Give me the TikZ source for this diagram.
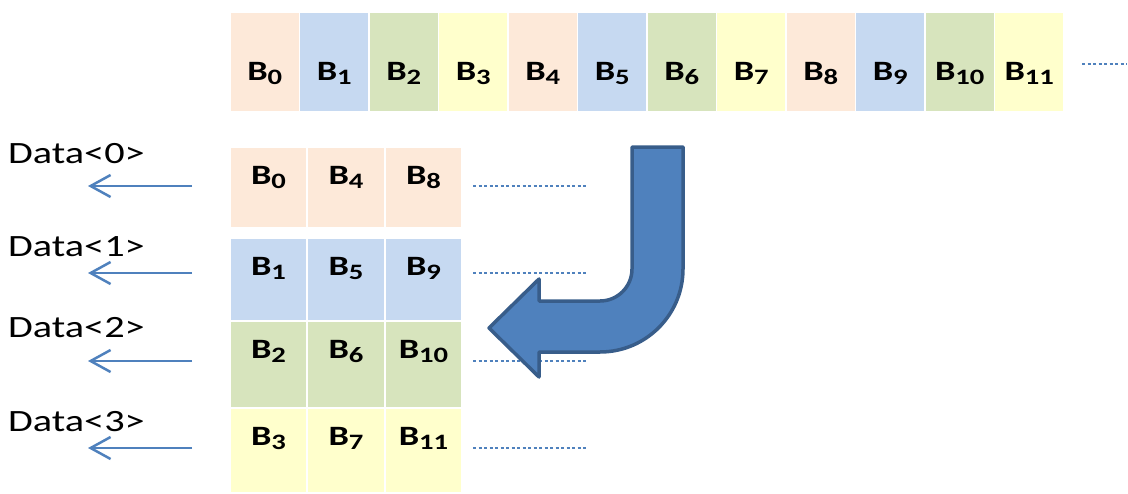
\documentclass[tikz,border=0pt]{standalone}
\usepackage{fontspec}
\setmainfont{Carlito}[FakeStretch=1.3,Numbers=Lining]
\usetikzlibrary{arrows.meta}
\definecolor{cpeach}{RGB}{253,233,217}
\definecolor{cblue}{RGB}{198,217,241}
\definecolor{cgreen}{RGB}{215,228,189}
\definecolor{cyellow}{RGB}{255,255,204}
\definecolor{abl}{RGB}{79,129,189}
\definecolor{abd}{RGB}{56,93,138}
\newcommand{\blk}[1]{{\fontsize{28}{28}\selectfont\bfseries B\raisebox{-4pt}{\fontsize{22}{22}\selectfont #1}}}
\begin{document}
\begin{tikzpicture}[x=1pt,y=-1pt,
  topcell/.style={rectangle,draw=white,line width=1.5pt,inner sep=0pt,minimum width=69.5pt,minimum height=99pt},
  gridcell/.style={rectangle,draw=white,line width=1.5pt,inner sep=0pt,minimum width=77.3pt},
  blabel/.style={anchor=base,inner sep=0pt},
  datalabel/.style={anchor=base west,inner sep=0pt,font=\fontsize{31}{32}\selectfont},
  dataarrow/.style={abl,line width=2.5pt,-{Straight Barb[length=20pt,width=22pt,line width=2.5pt]}},
  dots/.style={abl,line width=2.2pt,dash pattern=on 3pt off 2.5pt},
  bigarrow/.style={fill=abl,draw=abd,line width=3.5pt,line join=round}]
\useasboundingbox (0,0) rectangle (1128,493);
% top row
\foreach \i/\c in {0/cpeach,1/cblue,2/cgreen,3/cyellow,4/cpeach,5/cblue,6/cgreen,7/cyellow,8/cpeach,9/cblue,10/cgreen,11/cyellow}{
  \node[topcell,fill=\c] (t\i) at ({230+69.5*\i+34.75},62) {};
  \path (t\i.center) ++(0,18) node[blabel] {\blk{\i}};
}
\coordinate (tdA) at (1082,64);
\coordinate (tdB) at (1127,64);
\draw[dots] (tdA) -- (tdB);
% lower grid
\foreach \j/\top/\h/\c/\ay/\lb in {0/147/81/cpeach/186/163,1/238/83/cblue/273/256,2/321/87/cgreen/361/337,3/408/85/cyellow/448/431}{
  \foreach \k/\cx in {0/268.5,1/346,2/423.5}{
    \pgfmathtruncatemacro{\n}{\j+4*\k}
    \node[gridcell,fill=\c,minimum height=\h pt] (g\j\k) at (\cx,{\top+\h/2}) {};
    \path (\cx,{\top+37}) node[blabel] (l\j\k) {\blk{\n}};
  }
  \node[datalabel] (d\j) at (8,\lb) {Data<\j>};
  \coordinate (as\j) at (192,\ay);
  \coordinate (ae\j) at (88,\ay);
  \draw[dataarrow] (as\j) -- (ae\j);
  \coordinate (ps\j) at (473,\ay);
  \coordinate (pe\j) at (587,\ay);
  \draw[dots] (ps\j) -- (pe\j);
}
% big bent arrow
\draw[bigarrow] (632,147) -- (683,147) -- (683,269)
  arc[start angle=0,end angle=90,radius=83] -- (539,352) -- (539,377)
  -- (489,328) -- (539,279) -- (539,301) -- (600,301)
  arc[start angle=90,end angle=0,radius=32] -- cycle;
\end{tikzpicture}
\end{document}
